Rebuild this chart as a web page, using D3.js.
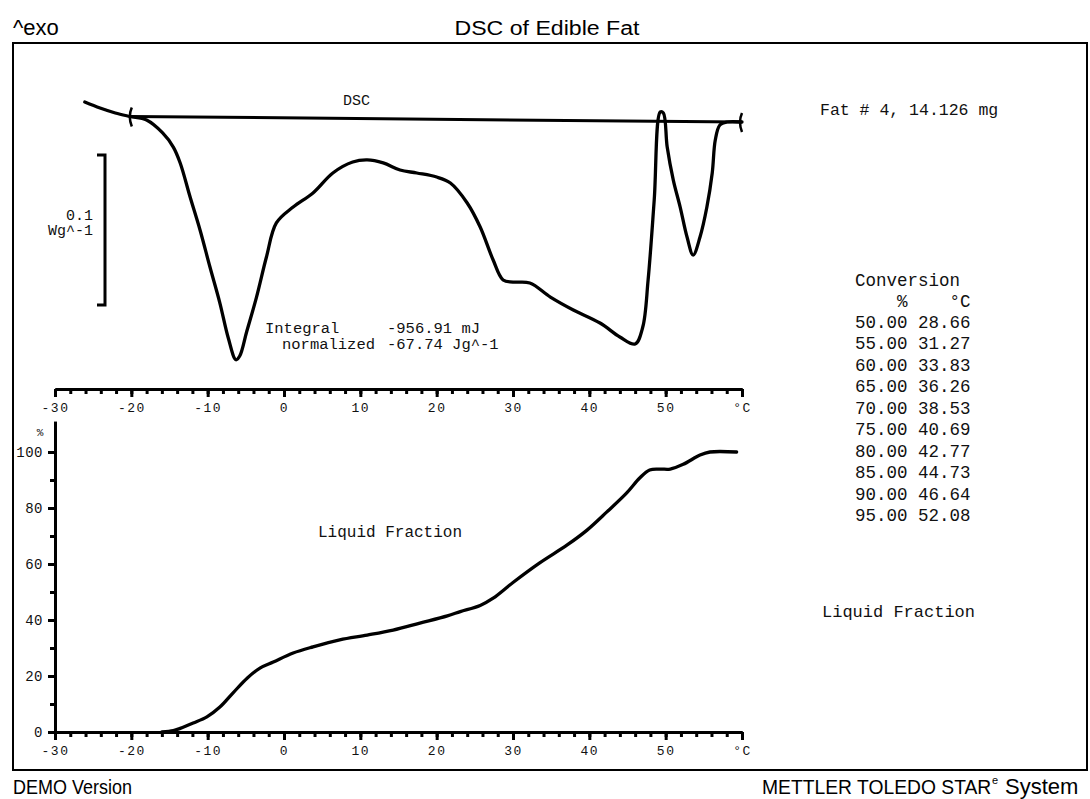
<!DOCTYPE html>
<html>
<head>
<meta charset="utf-8">
<script src="https://cdn.jsdelivr.net/npm/d3@7"></script>
<style>
  body { margin: 0; background: #fff; }
  .mono { font-family: "Liberation Mono", "Courier New", monospace; fill: #111; }
  .sans { font-family: "Liberation Sans", Arial, sans-serif; fill: #000; }
</style>
</head>
<body>
<script>
// DSC heat flow (W/g, exo up) against temperature (°C)
var dscTemp = [-26.1, -24.1, -22.1, -20.2, -18.0, -15.9, -14.5, -13.6, -12.3, -11.0,
  -9.7, -8.4, -7.3, -6.3, -5.8, -4.9, -3.6, -2.3, -1.0, 1.2,
  3.8, 6.4, 9.0, 10.9, 13.0, 15.2, 17.4, 20.0, 21.8, 24.0,
  25.7, 27.4, 28.7, 30.0, 32.2, 34.9, 37.9, 41.4, 44.0, 46.0,
  47.0, 47.7, 48.5, 49.3, 49.7, 50.2, 51.0, 51.9, 52.8, 53.6,
  54.5, 55.4, 56.1, 56.5, 57.1, 58.0, 60.0];
var dscFlow = [0.0093, 0.0053, 0.0020, -0.0003, -0.0027, -0.0113, -0.0207, -0.0313, -0.054, -0.076,
  -0.1007, -0.1247, -0.148, -0.1625, -0.1600, -0.1440, -0.1207, -0.094, -0.0713, -0.0607,
  -0.0513, -0.038, -0.0307, -0.0293, -0.0313, -0.036, -0.038, -0.0407, -0.0447, -0.058,
  -0.074, -0.096, -0.1093, -0.1107, -0.1113, -0.1207, -0.1293, -0.138, -0.1473, -0.152,
  -0.1407, -0.1093, -0.056, 0.0027, 0.002, -0.0207, -0.0427, -0.0607, -0.0807, -0.0927,
  -0.0807, -0.0607, -0.038, -0.016, -0.006, -0.004, -0.004];

// integration baseline
var baseTemp = [-20.2, 60.0];
var baseFlow = [-0.0003, -0.004];

// liquid fraction (%)
var lfTemp = [-16.0, -14.5, -13.6, -11.9, -10.1, -8.4, -6.7, -4.8, -3.1, -1.4,
  1.2, 3.8, 7.3, 10.9, 14.3, 17.8, 21.4, 23.1, 25.7, 27.4,
  30.0, 33.5, 37.1, 39.7, 42.3, 44.9, 46.6, 47.9, 49.3, 50.6,
  52.3, 54.5, 55.8, 59.3];
var lfPct = [0, 0.5, 1.3, 3.2, 5.4, 8.9, 13.9, 19.3, 22.9, 25.0,
  28.2, 30.4, 32.9, 34.6, 36.4, 38.9, 41.5, 43.0, 45.2, 47.8,
  53.4, 60.4, 66.8, 72.1, 78.6, 85.4, 90.7, 93.6, 93.9, 93.9,
  95.6, 98.9, 100, 100];

var tempTicks = [-30, -20, -10, 0, 10, 20, 30, 40, 50, 60];
var tempMinor = d3.range(-30, 61, 2);
var pctTicks = [0, 20, 40, 60, 80, 100];
var pctMinor = [0, 10, 20, 30, 40, 50, 60, 70, 80, 90, 100];

var convPct = ["50.00", "55.00", "60.00", "65.00", "70.00", "75.00", "80.00", "85.00", "90.00", "95.00"];
var convTemp = ["28.66", "31.27", "33.83", "36.26", "38.53", "40.69", "42.77", "44.73", "46.64", "52.08"];

var width = 1090, height = 799;

var svg = d3.select("body").append("svg")
  .attr("width", width)
  .attr("height", height);

svg.append("rect").attr("width", width).attr("height", height).attr("fill", "#fff");

var x = d3.scaleLinear().domain([-30, 60]).range([55, 742]);
var yDsc = d3.scaleLinear().domain([0, -0.1]).range([116, 266]);
var yLF = d3.scaleLinear().domain([0, 111]).range([732, 421.2]);

// frame
svg.append("rect")
  .attr("x", 13).attr("y", 43)
  .attr("width", 1074).attr("height", 727)
  .attr("fill", "none").attr("stroke", "#000").attr("stroke-width", 2);

// header / footer
function sans(tx, ty, size, len, s) {
  var t = svg.append("text").attr("class", "sans").attr("x", tx).attr("y", ty)
    .attr("font-size", size).text(s);
  if (len) t.attr("textLength", len).attr("lengthAdjust", "spacingAndGlyphs");
  return t;
}
sans(13, 35, 22, 0, "^exo");
sans(547, 35, 20, 185, "DSC of Edible Fat").attr("text-anchor", "middle");
sans(13, 794, 21, 119, "DEMO Version");
sans(762, 794, 19.3, 0, "METTLER TOLEDO STAR");
sans(992, 784, 11, 0, "e");
sans(1005, 794, 22, 0, "System");

// temperature axes (top one for DSC, bottom one for liquid fraction)
function tempAxis(yPos) {
  var g = svg.append("g").attr("transform", "translate(0," + yPos + ")");
  g.append("g")
    .call(d3.axisBottom(x).tickValues(tempMinor).tickSize(5).tickSizeOuter(0).tickFormat(""));
  g.append("g")
    .call(d3.axisBottom(x).tickValues(tempTicks).tickSize(8).tickSizeOuter(0).tickPadding(6)
      .tickFormat(function(d) { return d === 60 ? "°C" : String(d); }));
  g.selectAll(".domain").attr("stroke-width", 3);
  g.selectAll(".tick line").attr("stroke-width", 3);
  g.selectAll(".tick text")
    .attr("class", "mono")
    .attr("font-family", null)
    .attr("font-size", 13)
    .attr("letter-spacing", 1.5)
    .attr("fill", "#222");
}
tempAxis(389);
tempAxis(732);

// liquid fraction y axis
var gy = svg.append("g").attr("transform", "translate(55,0)");
gy.append("g").call(d3.axisLeft(yLF).tickValues(pctMinor).tickSize(5).tickSizeOuter(0).tickFormat(""));
gy.append("g").call(d3.axisLeft(yLF).tickValues(pctTicks).tickSize(7).tickSizeOuter(0).tickPadding(5)
  .tickFormat(function(d) { return String(d); }));
gy.selectAll(".domain").attr("stroke-width", 3);
gy.selectAll(".tick line").attr("stroke-width", 3);
gy.selectAll(".tick text")
  .attr("class", "mono")
  .attr("font-family", null)
  .attr("font-size", 14)
  .attr("letter-spacing", 0.5)
  .attr("fill", "#222");
svg.append("text").attr("class", "mono").attr("x", 40).attr("y", 436)
  .attr("font-size", 11).attr("text-anchor", "middle").text("%");

// DSC scale bar, 0.1 W/g
var barTop = -0.026;
svg.append("path")
  .attr("d", "M97," + yDsc(barTop) + "H105V" + yDsc(barTop - 0.1) + "H97")
  .attr("fill", "none").attr("stroke", "#000").attr("stroke-width", 3);
svg.append("text").attr("class", "mono").attr("x", 93).attr("y", 220)
  .attr("font-size", 15).attr("text-anchor", "end").text("0.1");
svg.append("text").attr("class", "mono").attr("x", 93).attr("y", 235)
  .attr("font-size", 15).attr("text-anchor", "end").text("Wg^-1");

// baseline and DSC curve
svg.append("path")
  .datum(d3.zip(baseTemp, baseFlow))
  .attr("fill", "none").attr("stroke", "#000").attr("stroke-width", 3)
  .attr("d", d3.line().x(function(d) { return x(d[0]); }).y(function(d) { return yDsc(d[1]); }));

// integration limit marks
[baseTemp[0], baseTemp[1]].forEach(function(t, i) {
  var bx = x(t) - (i ? 2 : 0), by = yDsc(baseFlow[i]);
  svg.append("path")
    .attr("d", "M" + (bx + 2) + "," + (by - 9) + "Q" + (bx - 2) + "," + by + " " + (bx + 2) + "," + (by + 10))
    .attr("fill", "none").attr("stroke", "#000").attr("stroke-width", 2.5);
});

svg.append("path")
  .datum(d3.zip(dscTemp, dscFlow))
  .attr("fill", "none")
  .attr("stroke", "#000")
  .attr("stroke-width", 3.3)
  .attr("stroke-linejoin", "round")
  .attr("stroke-linecap", "round")
  .attr("d", d3.line()
    .x(function(d) { return x(d[0]); })
    .y(function(d) { return yDsc(d[1]); })
    .curve(d3.curveCatmullRom));

// liquid fraction curve
svg.append("path")
  .datum(d3.zip(lfTemp, lfPct))
  .attr("fill", "none")
  .attr("stroke", "#000")
  .attr("stroke-width", 3.3)
  .attr("stroke-linejoin", "round")
  .attr("stroke-linecap", "round")
  .attr("d", d3.line()
    .x(function(d) { return x(d[0]); })
    .y(function(d) { return yLF(d[1]); })
    .curve(d3.curveCatmullRom));

// annotations
function label(tx, ty, size, s) {
  return svg.append("text").attr("class", "mono").attr("x", tx).attr("y", ty)
    .attr("font-size", size).attr("xml:space", "preserve").text(s);
}
label(343, 105, 15, "DSC");
label(820, 115, 16.5, "Fat # 4, 14.126 mg");
label(265, 333, 15.5, "Integral");
label(387, 333, 15.5, "-956.91 mJ");
label(282, 349, 15.5, "normalized");
label(387, 349, 15.5, "-67.74 Jg^-1");
label(318, 537, 16, "Liquid Fraction");
label(822, 617, 17, "Liquid Fraction");

// conversion table
label(855, 286, 17.5, "Conversion");
label(855, 307, 17.5, "    %    °C");
convPct.forEach(function(p, i) {
  label(855, 327.5 + i * 21.5, 17.5, p + " " + convTemp[i]);
});
</script>
</body>
</html>
